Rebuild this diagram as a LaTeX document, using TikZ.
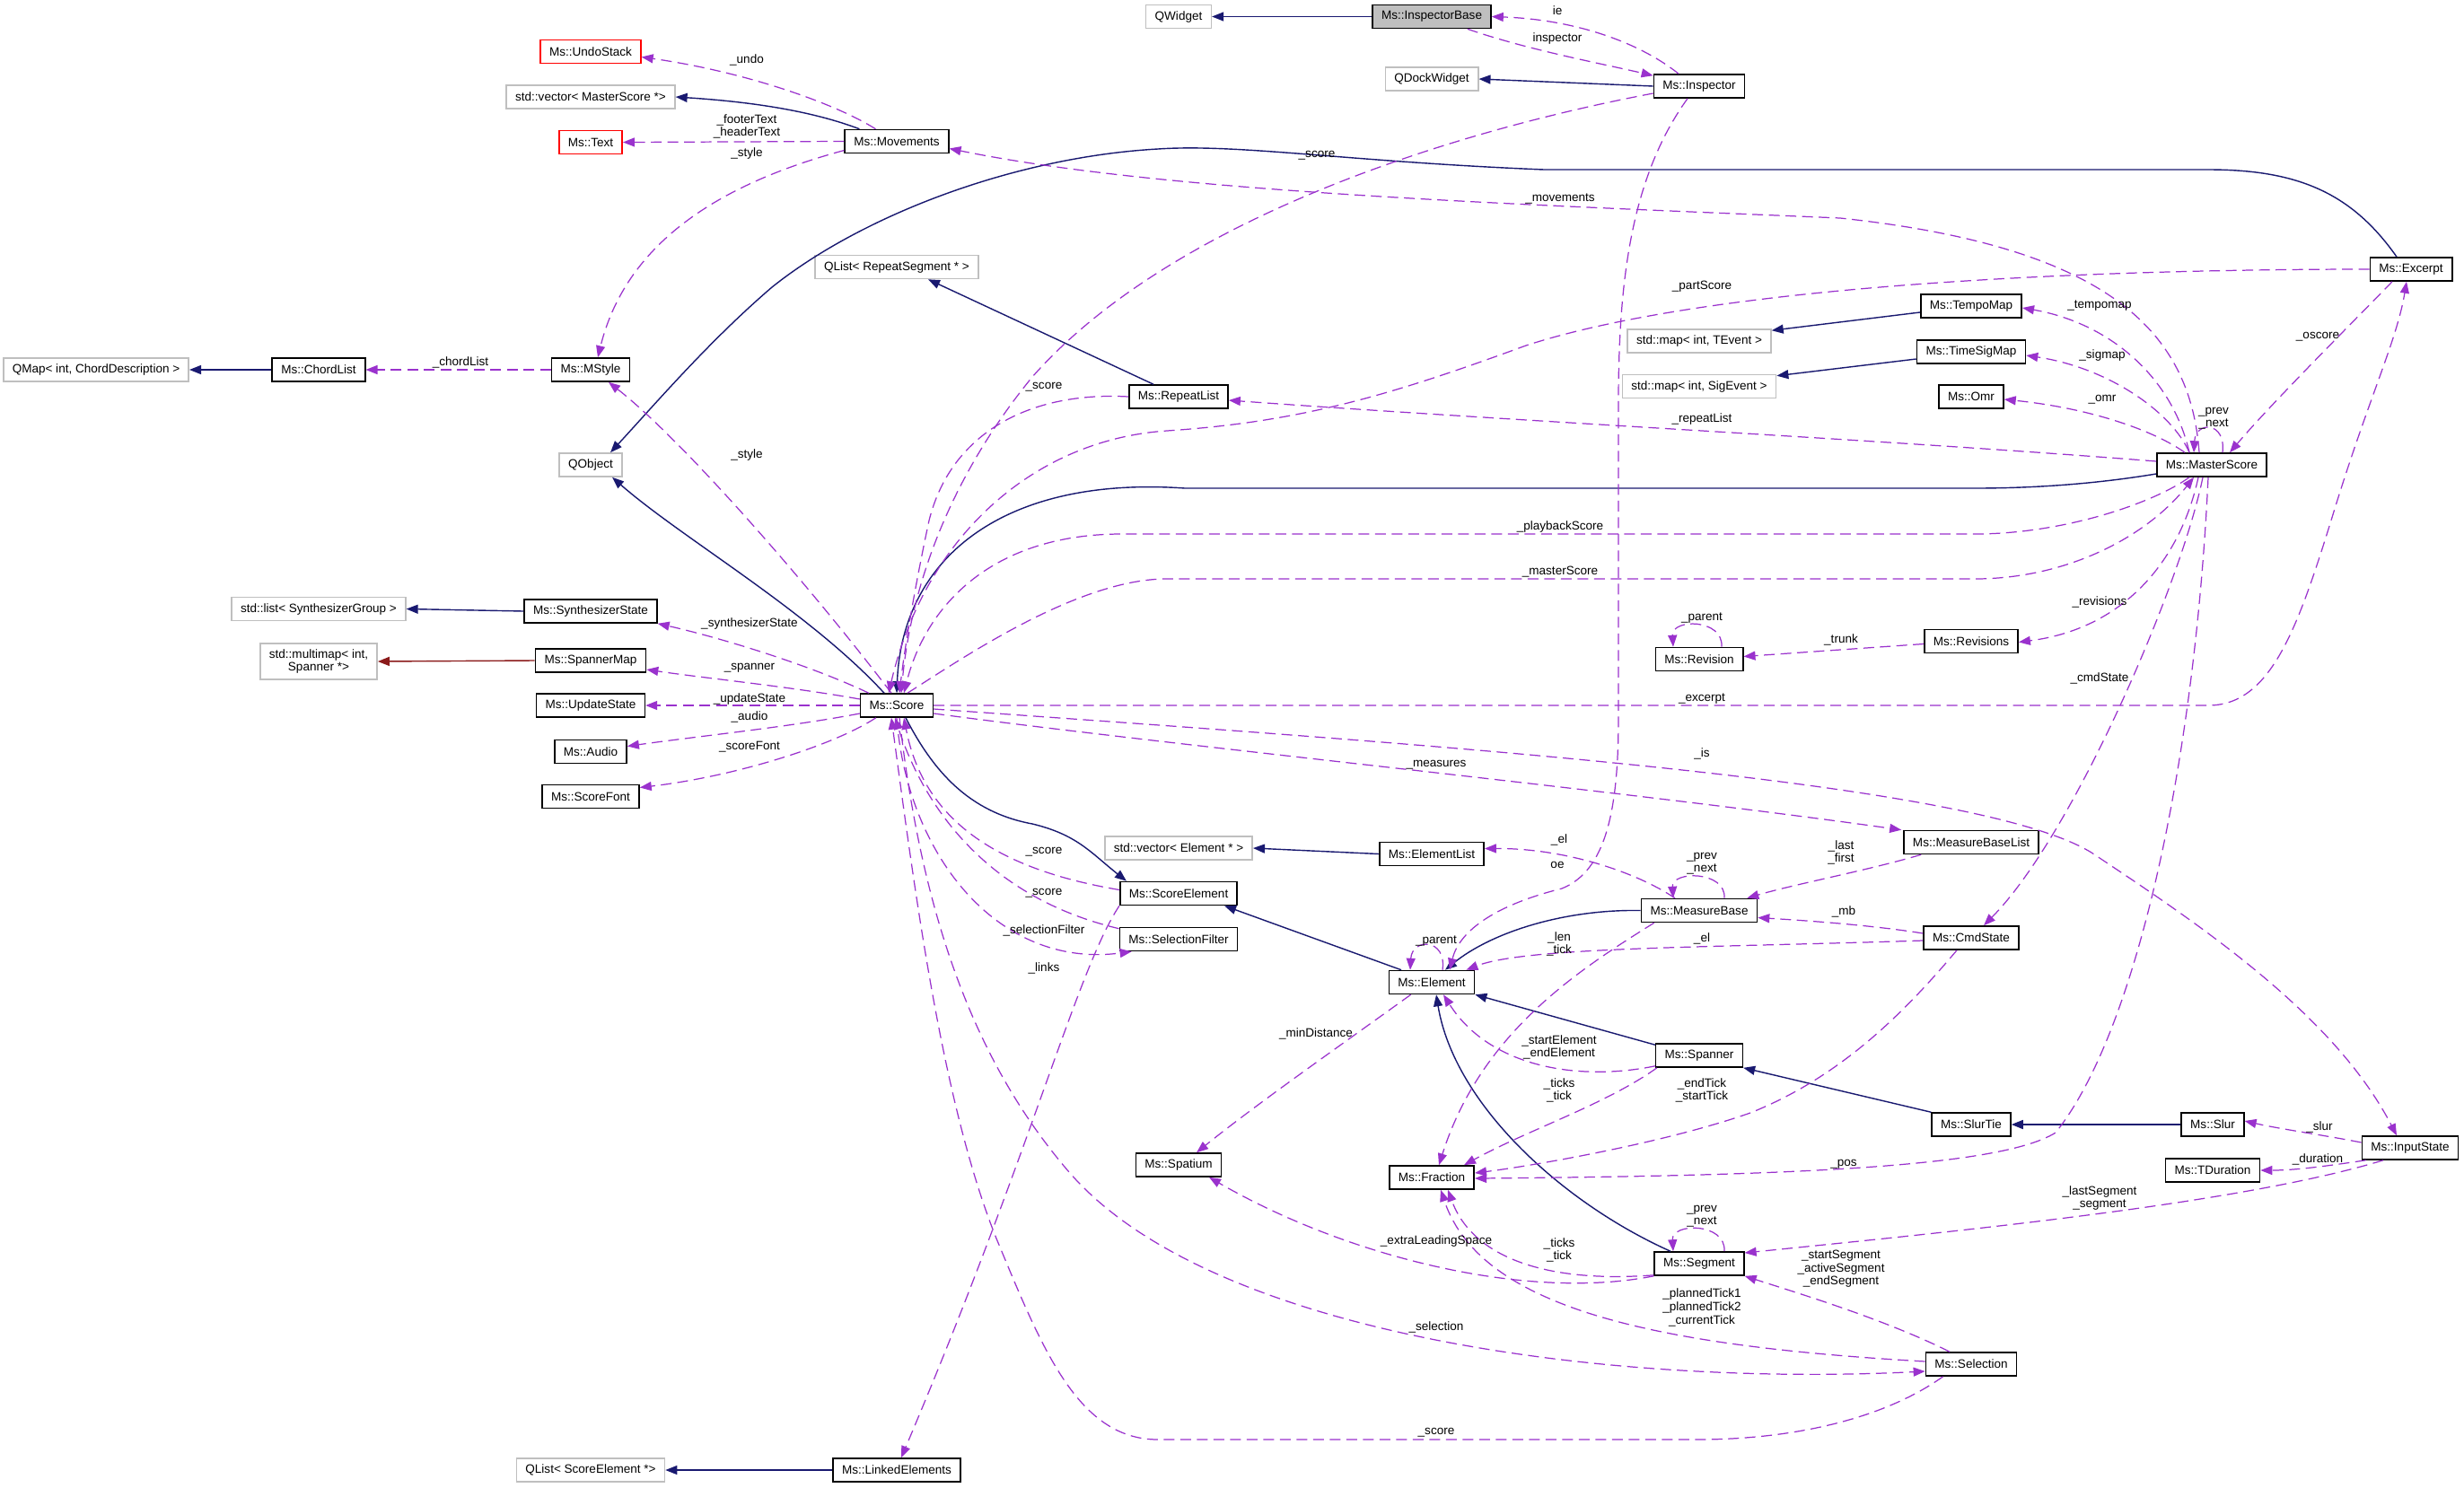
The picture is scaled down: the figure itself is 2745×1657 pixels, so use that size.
\documentclass[tikz,border=0pt]{standalone}
\usepackage{fontspec}
\setmainfont{Liberation Sans}
\usetikzlibrary{arrows.meta,calc}
\definecolor{navy}{HTML}{191970}
\definecolor{purp}{HTML}{9A32CD}
\definecolor{dred}{HTML}{8B1A1A}
\definecolor{gbord}{HTML}{BFBFBF}
\definecolor{ibfill}{HTML}{BFBFBF}
\begin{document}
\begin{tikzpicture}[x=0.02cm,y=-0.02cm,
  every node/.style={font=\fontsize{7.7}{8.3}\selectfont},
  cls/.style={draw=black, line width=0.9pt, fill=white, minimum height=0.52cm, inner xsep=0.2cm, inner ysep=0pt},
  ext/.style={cls, draw=gbord},
  redc/.style={cls, draw=red},
  inh/.style={draw=navy, line width=0.8pt, -{Triangle[length=0.26cm,width=0.2cm]}},
  priv/.style={inh, draw=dred},
  use/.style={draw=purp, line width=0.7pt, dash pattern=on 0.24cm off 0.13cm, -{Triangle[length=0.26cm,width=0.2cm]}},
  lab/.style={inner sep=0pt, align=center}]
\useasboundingbox (0,0) rectangle (2745,1657);
\fill[white] (0,0) rectangle (2745,1657);

% ---------------- nodes ----------------
\node[ext] (qmap) at (107,412) {QMap< int, ChordDescription >};
\node[cls] (chord) at (355,412) {Ms::ChordList};
\node[cls] (mstyle) at (658,412) {Ms::MStyle};
\node[redc] (undo) at (658,57.5) {Ms::UndoStack};
\node[ext] (vecms) at (658,108) {std::vector< MasterScore *>};
\node[redc] (text) at (658,158.5) {Ms::Text};
\node[cls] (mov) at (999,157.5) {Ms::Movements};
\node[ext] (qobj) at (658,518) {QObject};
\node[ext] (qlrs) at (999,297.5) {QList< RepeatSegment * >};
\node[ext] (qwidget) at (1313,18.5) {QWidget};
\node[cls, fill=ibfill] (ibase) at (1595,18.5) {Ms::InspectorBase};
\node[ext] (qdock) at (1595,88) {QDockWidget};
\node[cls] (insp) at (1893,96) {Ms::Inspector};
\node[cls] (rlist) at (1313,442) {Ms::RepeatList};
\node[ext] (mapt) at (1893,380) {std::map< int, TEvent >};
\node[ext] (maps) at (1893,430.5) {std::map< int, SigEvent >};
\node[cls] (excerpt) at (2686,300) {Ms::Excerpt};
\node[cls] (tempo) at (2196,341) {Ms::TempoMap};
\node[cls] (tsig) at (2196,392) {Ms::TimeSigMap};
\node[cls] (omr) at (2196,442) {Ms::Omr};
\node[cls] (master) at (2464,518) {Ms::MasterScore};
\node[ext] (lsg) at (355,678.5) {std::list< SynthesizerGroup >};
\node[ext, align=center, minimum height=0.8cm] (mmap) at (355,737) {std::multimap< int,\\ Spanner *>};
\node[cls] (synth) at (658,681) {Ms::SynthesizerState};
\node[cls] (spmap) at (658,736) {Ms::SpannerMap};
\node[cls] (upd) at (658,786) {Ms::UpdateState};
\node[cls] (audio) at (658,837.5) {Ms::Audio};
\node[cls] (sfont) at (658,887.5) {Ms::ScoreFont};
\node[cls] (score) at (999,786) {Ms::Score};
\node[ext] (vecel) at (1313,945) {std::vector< Element * >};
\node[cls] (elist) at (1595,951.5) {Ms::ElementList};
\node[cls] (sel) at (1313,995.5) {Ms::ScoreElement};
\node[cls] (selfil) at (1313,1046.5) {Ms::SelectionFilter};
\node[cls] (revision) at (1893,734.5) {Ms::Revision};
\node[cls] (mbase) at (1893,1014.5) {Ms::MeasureBase};
\node[cls] (element) at (1595,1094.5) {Ms::Element};
\node[cls] (revisions) at (2196,714.5) {Ms::Revisions};
\node[cls] (mbl) at (2196,938.5) {Ms::MeasureBaseList};
\node[cls] (cmd) at (2196,1045) {Ms::CmdState};
\node[ext] (qlse) at (658,1638) {QList< ScoreElement *>};
\node[cls] (linked) at (999,1638) {Ms::LinkedElements};
\node[cls] (spanner) at (1893,1176) {Ms::Spanner};
\node[cls] (spatium) at (1313,1298) {Ms::Spatium};
\node[cls] (fraction) at (1595,1312) {Ms::Fraction};
\node[cls] (segment) at (1893,1408) {Ms::Segment};
\node[cls] (selection) at (2196,1520) {Ms::Selection};
\node[cls] (slurtie) at (2196,1253) {Ms::SlurTie};
\node[cls] (slur) at (2465,1253) {Ms::Slur};
\node[cls] (input) at (2685,1279) {Ms::InputState};
\node[cls] (tdur) at (2465,1304) {Ms::TDuration};

% ---------------- inheritance ----------------
\draw[inh] (ibase.west) -- (qwidget.east);
\draw[inh] (insp.west) -- (qdock.east);
\draw[inh] ($(mov.north west)+(17,0)$) .. controls (900,122) and (830,113) .. (vecms.east);
\draw[inh] (chord.west) -- (qmap.east);
\draw[inh] ($(excerpt.north)+(-16,0)$) .. controls (2620,215) and (2560,189) .. (2460,189) -- (1720,189)
   .. controls (1500,180) and (1380,160) .. (1290,166) .. controls (1130,175) and (960,240) .. (860,320)
   .. controls (790,380) and (730,450) .. ($(qobj.north)+(22,0)$);
\draw[inh] ($(rlist.north)+(-28,0)$) -- ($(qlrs.south)+(35,0)$);
\draw[inh] ($(tempo.west)+(0,7)$) -- ($(mapt.north east)+(0,2)$);
\draw[inh] ($(tsig.west)+(0,8)$) -- ($(maps.north east)+(0,2)$);
\draw[inh] ($(master.west)+(0,10)$) .. controls (2330,540) and (2260,544) .. (2200,544) -- (1320,544)
   .. controls (1120,530) and (1005,620) .. (score.north);
\draw[inh] (synth.west) -- (lsg.east);
\draw[priv] (spmap.west) -- (mmap.east);
\draw[inh] (elist.west) -- (vecel.east);
\draw[inh] ($(score.south)+(10,0)$) .. controls (1040,860) and (1080,905) .. (1150,918)
   .. controls (1200,930) and (1215,950) .. ($(sel.north west)+(8,0)$);
\draw[inh] ($(element.north)+(-34,0)$) -- ($(sel.south east)+(-15,0)$);
\draw[inh] (mbase.west) .. controls (1740,1013) and (1660,1040) .. ($(element.north)+(15,0)$);
\draw[inh] ($(spanner.north west)+(0,2)$) -- (element.south east);
\draw[inh] ($(segment.north)+(-32,0)$) .. controls (1740,1340) and (1620,1230) .. ($(element.south)+(5,0)$);
\draw[inh] (slurtie.north west) -- (spanner.south east);
\draw[inh] (slur.west) -- (slurtie.east);
\draw[inh] (linked.west) -- (qlse.east);
\draw[inh] ($(score.north)+(-14,0)$) .. controls (900,680) and (760,600) .. ($(qobj.south)+(24,0)$);

% ---------------- usage ----------------
\draw[use] ($(mov.north west)+(35,0)$) .. controls (930,115) and (830,80) .. ($(undo.east)+(0,6)$);
\draw[use] (mov.west) -- (text.east);
\draw[use] ($(mov.west)+(0,10)$) .. controls (820,200) and (700,260) .. ($(mstyle.north)+(8,0)$);
\draw[use] ($(master.north)+(-14,0)$) .. controls (2440,370) and (2350,275) .. (2050,243)
   .. controls (1700,228) and (1300,215) .. ($(mov.east)+(0,8)$);
\draw[use] (mstyle.west) -- (chord.east);
\draw[use] ($(score.north)+(-6,0)$) .. controls (900,650) and (760,490) .. ($(mstyle.south)+(20,0)$);
\draw[use] ($(ibase.south east)+(-27,0)$) .. controls (1700,55) and (1780,70) .. ($(insp.north west)+(0,2)$);
\draw[use] ($(insp.north)+(-23,0)$) .. controls (1830,50) and (1760,22) .. (ibase.east);
\draw[use] ($(insp.west)+(0,8)$) .. controls (1600,150) and (1300,250) .. (1150,420)
   .. controls (1060,530) and (1015,650) .. ($(score.north)+(5,0)$);
\draw[use] ($(insp.south)+(-13,0)$) .. controls (1815,200) and (1803,320) .. (1803,450) -- (1803,800)
   .. controls (1803,900) and (1790,970) .. (1740,990) .. controls (1660,1010) and (1625,1040) .. ($(element.north)+(20,0)$);
\draw[use] (excerpt.west) .. controls (2300,300) and (1900,320) .. (1700,385)
   .. controls (1550,440) and (1450,470) .. (1300,480) .. controls (1150,490) and (1030,600) .. ($(score.north)+(-9,0)$);
\draw[use] ($(excerpt.south)+(-21,0)$) .. controls (2620,360) and (2530,450) .. ($(master.north)+(20,0)$);
\draw[use] (score.east) -- (2460,786) .. controls (2530,786) and (2560,700) .. (2600,570)
   .. controls (2640,440) and (2670,380) .. ($(excerpt.south)+(-5,0)$);
\draw[use] ($(master.north)+(-25,0)$) .. controls (2420,420) and (2350,360) .. ($(tempo.east)+(0,2)$);
\draw[use] ($(master.north)+(-25,0)$) .. controls (2420,460) and (2350,410) .. ($(tsig.east)+(0,4)$);
\draw[use] ($(master.north)+(-30,0)$) .. controls (2400,480) and (2330,455) .. ($(omr.east)+(0,3)$);
\draw[use] ($(master.north)+(12,0)$) .. controls (2480,469) and (2446,469) .. ($(master.north)+(-20,0)$);
\draw[use] ($(master.west)+(0,-4)$) .. controls (2100,490) and (1700,470) .. ($(rlist.east)+(0,4)$);
\draw[use] (rlist.west) .. controls (1150,436) and (1060,480) .. (1035,580)
   .. controls (1020,650) and (1008,720) .. ($(score.north)+(3,0)$);
\draw[use] ($(master.south)+(-25,0)$) .. controls (2400,560) and (2300,595) .. (2200,595) -- (1250,595)
   .. controls (1100,595) and (1030,680) .. ($(score.north)+(8,0)$);
\draw[use] ($(score.north)+(12,0)$) .. controls (1070,735) and (1200,645) .. (1300,645) -- (2200,645)
   .. controls (2300,645) and (2390,600) .. ($(master.south)+(-20,0)$);
\draw[use] ($(master.south)+(-15,0)$) .. controls (2430,620) and (2370,700) .. ($(revisions.east)+(0,1)$);
\draw[use] ($(revisions.west)+(0,3)$) -- ($(revision.east)+(0,-3)$);
\draw[use] ($(revision.north)+(25,0)$) .. controls (1920,689) and (1862,689) .. ($(revision.north)+(-29,0)$);
\draw[use] ($(master.south)+(-10,0)$) .. controls (2430,650) and (2310,930) .. ($(cmd.north)+(14,0)$);
\draw[use] ($(master.south)+(-4,0)$) .. controls (2445,850) and (2380,1150) .. (2290,1262)
   .. controls (2230,1300) and (2000,1310) .. ($(fraction.east)+(0,1)$);
\draw[use] ($(score.north west)+(10,0)$) .. controls (900,740) and (800,710) .. (synth.south east);
\draw[use] ($(score.west)+(0,-7)$) .. controls (880,765) and (780,755) .. ($(spmap.east)+(0,10)$);
\draw[use] (score.west) -- (upd.east);
\draw[use] ($(score.west)+(0,9)$) .. controls (880,810) and (780,820) .. ($(audio.east)+(0,-6)$);
\draw[use] ($(score.south west)+(18,0)$) .. controls (930,830) and (820,865) .. ($(sfont.east)+(0,-10)$);
\draw[use] ($(score.east)+(0,9)$) .. controls (1300,830) and (1800,880) .. ($(mbl.north west)+(-2,0)$);
\draw[use] ($(score.east)+(0,4)$) .. controls (1600,830) and (2200,870) .. (2330,950)
   .. controls (2450,1030) and (2600,1130) .. ($(input.north)+(-15,0)$);
\draw[use] ($(score.south)+(3,0)$) .. controls (1030,1050) and (1100,1200) .. (1191,1306)
   .. controls (1350,1490) and (1800,1545) .. ($(selection.west)+(0,8)$);
\draw[use] ($(selection.south west)+(20,0)$) .. controls (2100,1580) and (2000,1604) .. (1890,1604) -- (1290,1604)
   .. controls (1200,1604) and (1160,1500) .. (1110,1380) .. controls (1050,1230) and (1020,1000) .. ($(score.south)+(-6,0)$);
\draw[use] ($(sel.west)+(0,-4)$) .. controls (1120,970) and (1030,920) .. ($(score.south)+(8,0)$);
\draw[use] ($(selfil.north west)+(0,2)$) .. controls (1100,1000) and (1030,900) .. ($(score.south)+(-2,0)$);
\draw[use] (score.south) .. controls (1010,950) and (1110,1080) .. ($(selfil.south west)+(14,0)$);
\draw[use] (sel.south west) .. controls (1200,1080) and (1150,1280) .. ($(linked.north)+(5,0)$);
\draw[use] ($(element.north)+(12,0)$) .. controls (1612,1045) and (1573,1045) .. ($(element.north)+(-24,0)$);
\draw[use] ($(mbase.north)+(-27,0)$) .. controls (1820,970) and (1740,945) .. ($(elist.east)+(0,-6)$);
\draw[use] ($(mbase.north)+(28,0)$) .. controls (1923,970) and (1862,970) .. ($(mbase.north)+(-29,0)$);
\draw[use] ($(mbl.south west)+(20,0)$) .. controls (2080,970) and (2000,985) .. ($(mbase.north east)+(-12,0)$);
\draw[use] ($(cmd.west)+(0,-5)$) .. controls (2080,1030) and (2000,1025) .. ($(mbase.east)+(0,8)$);
\draw[use] ($(cmd.west)+(0,3)$) .. controls (1900,1056) and (1700,1055) .. ($(element.north east)+(-10,0)$);
\draw[use] ($(mbase.south west)+(15,0)$) .. controls (1760,1080) and (1650,1150) .. ($(fraction.north)+(8,0)$);
\draw[use] ($(element.south west)+(25,0)$) .. controls (1500,1160) and (1400,1230) .. ($(spatium.north)+(20,0)$);
\draw[use] ($(spanner.south west)+(0,-2)$) .. controls (1760,1205) and (1660,1190) .. ($(element.south)+(13,0)$);
\draw[use] ($(spanner.south west)+(2,0)$) .. controls (1790,1230) and (1700,1260) .. ($(fraction.north east)+(-12,0)$);
\draw[use] ($(cmd.south)+(-16,0)$) .. controls (2120,1130) and (2050,1200) .. (1950,1240)
   .. controls (1850,1275) and (1700,1300) .. ($(fraction.east)+(0,-5)$);
\draw[use] ($(segment.south west)+(0,-1)$) .. controls (1720,1430) and (1640,1400) .. ($(fraction.south)+(18,0)$);
\draw[use] (segment.south west) .. controls (1700,1450) and (1500,1400) .. ($(spatium.south)+(34,0)$);
\draw[use] ($(segment.north)+(28,0)$) .. controls (1923,1362) and (1862,1362) .. ($(segment.north)+(-29,0)$);
\draw[use] ($(selection.west)+(0,-3)$) .. controls (1850,1500) and (1650,1460) .. ($(fraction.south)+(10,0)$);
\draw[use] ($(selection.north)+(-24,0)$) .. controls (2100,1470) and (2000,1440) .. (segment.south east);
\draw[use] ($(input.south)+(-30,0)$) .. controls (2500,1340) and (2200,1370) .. ($(segment.east)+(0,-12)$);
\draw[use] ($(input.west)+(0,-6)$) .. controls (2590,1265) and (2540,1258) .. ($(slur.east)+(0,-4)$);
\draw[use] ($(input.south west)+(5,0)$) .. controls (2600,1298) and (2560,1304) .. (tdur.east);

% ---------------- labels ----------------
\node[lab] (l1) at (832,67) {\_undo};
\node[lab] (l2) at (832,141) {\_footerText\\\_headerText};
\node[lab] (l3) at (832,171) {\_style};
\node[lab] (l4) at (513,404) {\_chordList};
\node[lab] (l5) at (832,507) {\_style};
\node[lab] (l6) at (1735,12) {ie};
\node[lab] (l7) at (1735,43) {inspector};
\node[lab] (l8) at (1467,173) {\_score};
\node[lab] (l9) at (1738,221) {\_movements};
\node[lab] (l10) at (1896,319) {\_partScore};
\node[lab] (l11) at (1163,431) {\_score};
\node[lab] (l12) at (1896,467) {\_repeatList};
\node[lab] (l13) at (2339,341) {\_tempomap};
\node[lab] (l14) at (2342,396) {\_sigmap};
\node[lab] (l15) at (2342,445) {\_omr};
\node[lab] (l16) at (2582,375) {\_oscore};
\node[lab] (l17) at (2466,466) {\_prev\\\_next};
\node[lab] (l18) at (1738,587) {\_playbackScore};
\node[lab] (l19) at (1738,637) {\_masterScore};
\node[lab] (l20) at (1896,689) {\_parent};
\node[lab] (l21) at (2339,671) {\_revisions};
\node[lab] (l22) at (2051,713) {\_trunk};
\node[lab] (l23) at (2339,756) {\_cmdState};
\node[lab] (l24) at (1896,779) {\_excerpt};
\node[lab] (l25) at (1896,840) {\_is};
\node[lab] (l26) at (1600,852) {\_measures};
\node[lab] (l27) at (835,695) {\_synthesizerState};
\node[lab] (l28) at (835,744) {\_spanner};
\node[lab] (l29) at (835,779) {\_updateState};
\node[lab] (l30) at (835,799) {\_audio};
\node[lab] (l31) at (835,832) {\_scoreFont};
\node[lab] (l32) at (1163,949) {\_score};
\node[lab] (l33) at (1163,995) {\_score};
\node[lab] (l34) at (1163,1037) {\_selectionFilter};
\node[lab] (l35) at (1163,1079) {\_links};
\node[lab] (l36) at (1737,936) {\_el};
\node[lab] (l37) at (1735,964) {oe};
\node[lab] (l38) at (1896,962) {\_prev\\\_next};
\node[lab] (l39) at (2051,950) {\_last\\\_first};
\node[lab] (l40) at (2054,1016) {\_mb};
\node[lab] (l41) at (1896,1046) {\_el};
\node[lab] (l42) at (1737,1052) {\_len\\\_tick};
\node[lab] (l43) at (1600,1049) {\_parent};
\node[lab] (l44) at (1466,1152) {\_minDistance};
\node[lab] (l45) at (1737,1167) {\_startElement\\\_endElement};
\node[lab] (l46) at (1737,1215) {\_ticks\\\_tick};
\node[lab] (l47) at (1896,1215) {\_endTick\\\_startTick};
\node[lab] (l48) at (2054,1297) {\_pos};
\node[lab] (l49) at (2584,1256) {\_slur};
\node[lab] (l50) at (2582,1292) {\_duration};
\node[lab] (l51) at (2339,1335) {\_lastSegment\\\_segment};
\node[lab] (l52) at (1896,1355) {\_prev\\\_next};
\node[lab] (l53) at (1600,1383) {\_extraLeadingSpace};
\node[lab] (l54) at (1737,1393) {\_ticks\\\_tick};
\node[lab] (l55) at (2051,1414) {\_startSegment\\\_activeSegment\\\_endSegment};
\node[lab] (l56) at (1896,1457) {\_plannedTick1\\\_plannedTick2\\\_currentTick};
\node[lab] (l57) at (1600,1479) {\_selection};
\node[lab] (l58) at (1600,1596) {\_score};
\end{tikzpicture}
\end{document}
